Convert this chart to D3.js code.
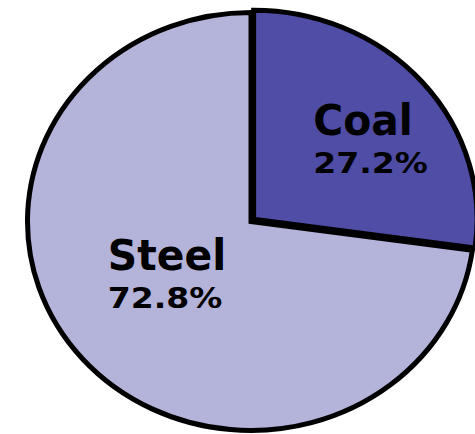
<!DOCTYPE html>
<html>
<head>
<meta charset="utf-8">
<script src="https://cdn.jsdelivr.net/npm/d3@7"></script>
<style>
  html, body { margin: 0; padding: 0; background: #fff; overflow: hidden; }
  svg { display: block; }
  .label { font-family: "DejaVu Sans", Verdana, sans-serif; font-weight: bold; fill: #000; }
</style>
</head>
<body>
<div id="chart"></div>
<script>
const categories = ["Coal", "Steel"];
const shares = [27.2, 72.8];
const colors = ["#4f4da5", "#b4b3da"];

const width = 475;
const height = 434;

// the original pie is slightly wider than tall
const cx = 251;
const cy = 221.5;
const ry = 209;
const rx = 223.5;
const sx = rx / ry;
const explode = 5;

const data = categories.map((name, i) => ({ name, value: shares[i], color: colors[i] }));

const svg = d3
  .select("#chart")
  .append("svg")
  .attr("width", width)
  .attr("height", height);

const pie = d3.pie().sort(null).value((d) => d.value);
const arcs = pie(data);

const arc = d3.arc().innerRadius(0).outerRadius(ry);
const labelArc = d3.arc().innerRadius(ry * 0.6).outerRadius(ry * 0.6);

// shift the small slice out along its middle angle
function offset(d, i) {
  if (i !== 0) return [0, 0];
  const mid = (d.startAngle + d.endAngle) / 2;
  return [Math.sin(mid) * explode * 0.7, -Math.cos(mid) * explode * 0.7];
}

// draw steel first so coal sits on top
const order = [1, 0];

svg
  .selectAll("path.slice")
  .data(order.map((i) => ({ a: arcs[i], i })))
  .enter()
  .append("path")
  .attr("class", "slice")
  .attr("transform", (d) => {
    const [ox, oy] = offset(d.a, d.i);
    return `translate(${cx + ox}, ${cy + oy}) scale(${sx}, 1)`;
  })
  .attr("d", (d) => arc(d.a))
  .attr("fill", (d) => d.a.data.color)
  .attr("stroke", "#000")
  .attr("stroke-width", 5)
  .attr("stroke-linejoin", "miter")
  .attr("vector-effect", "non-scaling-stroke");

// label nudges from the slice centroid
const nudge = { Coal: [-41.6, -2], Steel: [-42, -34] };

const labels = svg
  .selectAll("g.label")
  .data(arcs.map((a, i) => ({ a, i })))
  .enter()
  .append("g")
  .attr("class", "label")
  .attr("transform", (d) => {
    const c = labelArc.centroid(d.a);
    const [ox, oy] = offset(d.a, d.i);
    const n = nudge[d.a.data.name];
    return `translate(${cx + ox + c[0] * sx + n[0]}, ${cy + oy + c[1] + n[1]})`;
  });

// the source font runs wide on the numbers, narrow on the names
labels
  .append("text")
  .attr("font-size", 43)
  .attr("transform", "scale(0.95, 1)")
  .text((d) => d.a.data.name);

labels
  .append("text")
  .attr("font-size", 28)
  .attr("transform", "translate(0, 38) scale(1.18, 1)")
  .text((d) => d.a.data.value.toFixed(1) + "%");
</script>
</body>
</html>
